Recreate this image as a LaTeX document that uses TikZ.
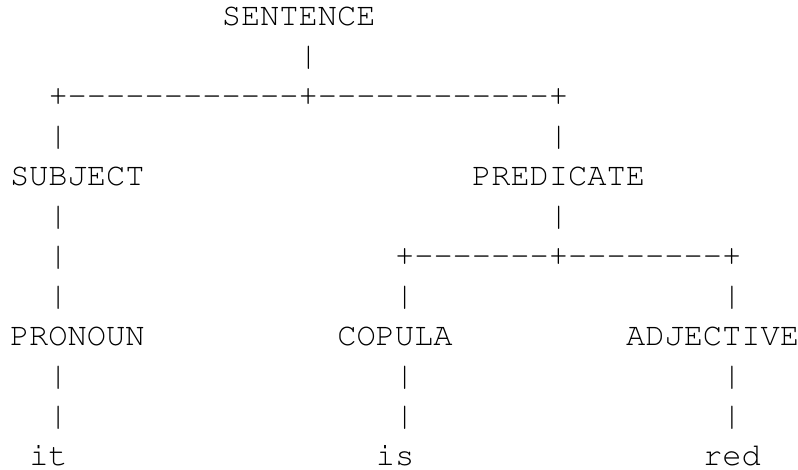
\documentclass[tikz,border=0pt]{standalone}
\usepackage[T1]{fontenc}
\begin{document}
\begin{tikzpicture}[x=1pt,y=1pt,
  txt/.style={anchor=base west, inner sep=0pt, outer sep=0pt, text=black, text depth=0pt,
    font=\fontfamily{pcr}\fontseries{m}\selectfont\fontsize{32.08}{40}\selectfont}]
\useasboundingbox (0,0) rectangle (798,-469);
\newcommand\cell[4]{\node[txt] (#1) at ({10+#2*19.25},{-(25+40*#3)}) {#4};}
\newcommand\dsh{-\kern0pt}
\newcommand\dashes[1]{\foreach \k in {1,...,#1}{\dsh}}
% row 0-2
\cell{sentence}{11}{0}{SENTENCE}
\cell{v1}{15}{1}{|}
\cell{bar1}{2}{2}{+\dashes{12}+\dashes{12}+}
% row 3-5
\cell{v2a}{2}{3}{|}
\cell{v2b}{28}{3}{|}
\cell{subject}{0}{4}{SUBJECT}
\cell{predicate}{24}{4}{PREDICATE}
\cell{v3a}{2}{5}{|}
\cell{v3b}{28}{5}{|}
% row 6-8
\cell{v4a}{2}{6}{|}
\cell{bar2}{20}{6}{+\dashes{7}+\dashes{8}+}
\cell{v5a}{2}{7}{|}
\cell{v5b}{20}{7}{|}
\cell{v5c}{37}{7}{|}
\cell{pronoun}{0}{8}{PRONOUN}
\cell{copula}{17}{8}{COPULA}
\cell{adjective}{32}{8}{ADJECTIVE}
% row 9-11
\cell{v6a}{2}{9}{|}
\cell{v6b}{20}{9}{|}
\cell{v6c}{37}{9}{|}
\cell{v7a}{2}{10}{|}
\cell{v7b}{20}{10}{|}
\cell{v7c}{37}{10}{|}
\cell{it}{1}{11}{it}
\cell{is}{19}{11}{is}
\cell{red}{36}{11}{red}
\end{tikzpicture}
\end{document}
